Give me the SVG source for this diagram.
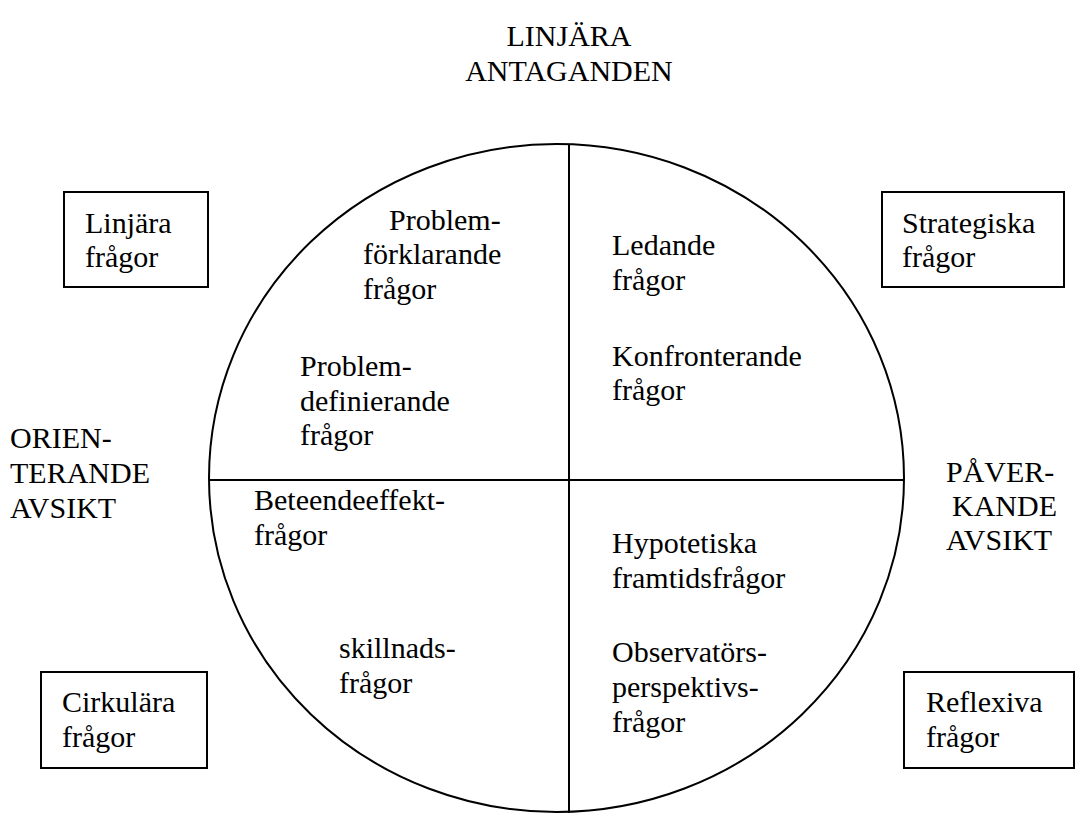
<svg xmlns="http://www.w3.org/2000/svg" width="1089" height="813" viewBox="0 0 1089 813">
<style>
text{font-family:"Liberation Serif","Times New Roman",serif;font-size:30px;fill:#000}
.box{fill:#fff;stroke:#000;stroke-width:2}
.ln{stroke:#000;stroke-width:2;fill:none}
</style>
<rect width="1089" height="813" fill="#fff"/>
<g id="connectors">
<ellipse class="ln" cx="556.5" cy="478" rx="347.5" ry="334"/>
<line class="ln" x1="569" y1="144" x2="569" y2="813"/>
<line class="ln" x1="209" y1="480" x2="904" y2="480"/>
</g>
<g id="title"><text x="569" y="46" text-anchor="middle">LINJÄRA</text><text x="569" y="81" text-anchor="middle">ANTAGANDEN</text></g>
<g id="box-linjara"><rect class="box" x="64" y="192" width="144" height="95"/><text x="85" y="233">Linjära</text><text x="85" y="267">frågor</text></g>
<g id="box-strategiska"><rect class="box" x="882" y="192" width="182" height="95"/><text x="902" y="233">Strategiska</text><text x="902" y="267">frågor</text></g>
<g id="box-cirkulara"><rect class="box" x="41" y="672" width="166" height="96"/><text x="62" y="712">Cirkulära</text><text x="62" y="747">frågor</text></g>
<g id="box-reflexiva"><rect class="box" x="904" y="672" width="170" height="96"/><text x="926" y="712">Reflexiva</text><text x="926" y="747">frågor</text></g>
<g id="orienterande"><text x="10" y="448">ORIEN-</text><text x="10" y="483">TERANDE</text><text x="10" y="518">AVSIKT</text></g>
<g id="paverkande"><text x="946" y="482">PÅVER-</text><text x="952" y="516">KANDE</text><text x="946" y="550">AVSIKT</text></g>
<g id="q-forklarande"><text x="389" y="230">Problem-</text><text x="363" y="264">förklarande</text><text x="363" y="299">frågor</text></g>
<g id="q-definierande"><text x="300" y="376">Problem-</text><text x="300" y="411">definierande</text><text x="300" y="445">frågor</text></g>
<g id="q-ledande"><text x="612" y="255">Ledande</text><text x="612" y="290">frågor</text></g>
<g id="q-konfronterande"><text x="612" y="366">Konfronterande</text><text x="612" y="400">frågor</text></g>
<g id="q-beteende"><text x="254" y="510">Beteendeeffekt-</text><text x="254" y="545">frågor</text></g>
<g id="q-skillnad"><text x="339" y="658">skillnads-</text><text x="339" y="693">frågor</text></g>
<g id="q-hypotetiska"><text x="612" y="553">Hypotetiska</text><text x="612" y="588">framtidsfrågor</text></g>
<g id="q-observator"><text x="612" y="662">Observatörs-</text><text x="612" y="697">perspektivs-</text><text x="612" y="732">frågor</text></g>
</svg>
